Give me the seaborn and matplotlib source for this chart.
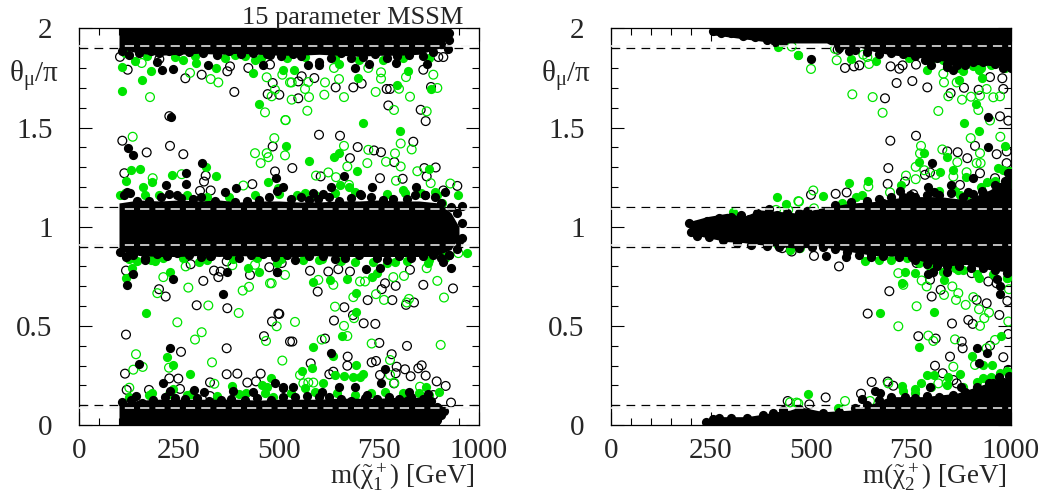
import numpy as np
import matplotlib
matplotlib.use("Agg")
import matplotlib.pyplot as plt
import seaborn as sns

# values, as (m [GeV], theta_mu/pi)
left_open_black = [
    (102.5,1.857),(121.7,1.792),(200.8,1.846),(265.8,1.749),(306.7,1.767),(377.5,1.809),(370.8,1.784),(423.3,1.801),
    (388.3,1.680),(471.7,1.669),(500.8,1.666),(484.2,1.725),(477.5,1.818),(225.8,1.558),(108.3,1.434),(227.5,1.408),
    (169.2,1.375),(260.8,1.366),(484.2,1.405),(113.3,1.270),(316.7,1.258),(312.5,1.228),(433.3,1.215),(490,1.279),
    (329.2,1.183),(302.5,1.181),(556.7,1.759),(548.3,1.733),(588.3,1.750),(548.3,1.648),(641.7,1.703),(685.8,1.703),
    (706.7,1.722),(769.2,1.695),(777.5,1.695),(880,1.705),(773.3,1.612),(854.2,1.590),(866.7,1.533),(600,1.464),
    (652.5,1.459),(696.7,1.402),(737.5,1.385),(755,1.376),(835.8,1.429),(677.5,1.346),(788.3,1.326),(533.3,1.296),
    (891.7,1.299),(863.3,1.296),(869.2,1.254),(604.2,1.254),(752.5,1.245),(809.2,1.242),(910.8,1.856),(898.3,1.856),
    (860.8,1.792),(945.8,1.206),(910.8,1.183),
    (117.5,0.779),(200,0.685),(216.7,0.648),(279.2,0.811),(310.8,0.727),(337.5,0.779),(348.3,0.746),(354.2,0.774),
    (294.2,0.604),(370.8,0.589),(117.5,0.456),(255,0.369),(369.2,0.387),(115,0.259),(369.2,0.256),(395.8,0.259),
    (454.2,0.259),(498.3,0.562),(482.5,0.522),(462.5,0.448),(427.5,0.757),(475.8,0.796),(225.8,0.235),(248.3,0.234),
    (327.5,0.215),(420.8,0.214),(442.5,0.220),(119.2,0.177),(175,0.177),(252.5,0.182),(327.5,0.146),(506.7,0.817),
    (527.5,0.421),(369.2,0.825),(500.8,0.560),(533.3,0.421),(596.7,0.673),(579.2,0.311),(615,0.436),(637.5,0.527),
    (663.3,0.594),(685,0.554),(711.7,0.513),(740.8,0.510),(721.7,0.630),(783.3,0.630),(756.7,0.685),(791.7,0.702),
    (860.8,0.707),(935,0.689),(837.5,0.618),(817.5,0.606),(750.8,0.414),(820,0.399),(781.7,0.357),(671.7,0.345),
    (670.8,0.299),(731.7,0.316),(742.5,0.323),(794.2,0.294),(815,0.281),(856.7,0.301),(848.3,0.286),(829.2,0.246),
    (866.7,0.249),(752.5,0.252),(791.7,0.261),(894.2,0.220),(916.7,0.197),(635.8,0.269),(625.8,0.256),(577.5,0.778),
    (623.3,0.774),(648.3,0.786),(765,0.715),(827.5,0.783),(930,0.113),(787.5,0.210),(885.8,0.151),(527.5,0.126),
    (677.5,0.774),
]
left_open_green = [
    (156.7,1.826),(277.5,1.776),(329.2,1.745),(348.3,1.728),(177.5,1.654),(469.2,1.754),(465,1.577),(516.7,1.538),
    (134.2,1.454),(488.3,1.447),(440,1.371),(469.2,1.371),(473.3,1.351),(454.2,1.321),(515,1.360),(184.2,1.245),
    (256.7,1.265),(410.8,1.208),(508.3,1.767),(490,1.691),(481.7,1.658),(527.5,1.728),(531.7,1.728),(573.3,1.730),
    (565,1.695),(575,1.654),(531.7,1.641),(613.3,1.666),(615,1.728),(650,1.745),(662.5,1.654),(637.5,1.801),
    (723.3,1.801),(755,1.779),(755,1.747),(741.7,1.680),(800,1.696),(827.5,1.656),(787.5,1.589),(817.5,1.755),
    (885.8,1.767),(895.8,1.700),(869.2,1.582),(570.8,1.585),(515.8,1.538),(662.5,1.408),(723.3,1.388),(804.2,1.420),
    (831.7,1.390),(790,1.370),(767.5,1.328),(720.8,1.321),(670.8,1.304),(804.2,1.304),(845.8,1.280),(623.3,1.274),
    (592.5,1.258),(642.5,1.250),(792.5,1.232),(879.2,1.220),(928.3,1.218),(675,1.211),
    (266.7,0.800),(210.8,0.746),(195.8,0.665),(273.3,0.693),(323.3,0.603),(399.2,0.565),(409.2,0.678),(425,0.697),
    (477.5,0.715),(245.8,0.518),(306.7,0.468),(290,0.431),(467.5,0.424),(494.2,0.498),(142.5,0.357),(135.8,0.279),
    (159.2,0.293),(225,0.289),(332.5,0.316),(508.3,0.325),(338.3,0.208),(125.8,0.188),(440,0.808),(383.3,0.806),
    (515,0.757),(540,0.520),(640,0.597),(685.8,0.645),(687.5,0.539),(662.5,0.500),(670.8,0.449),(606.7,0.431),
    (731.7,0.411),(742.5,0.660),(762.5,0.631),(702.5,0.724),(715,0.724),(812.5,0.752),(785.8,0.746),(819.2,0.618),
    (825,0.636),(912.5,0.643),(895.8,0.727),(904.2,0.404),(552.5,0.252),(560.8,0.210),(573.3,0.214),(585.8,0.214),
    (777.5,0.328),(777.5,0.252),(788.3,0.212),(852.5,0.193),(481.7,0.715),(598.3,0.732),(635.8,0.707),(869.2,0.791),
    (948.3,0.867),
]
left_filled_green = [
    (108.3,1.804),(106.7,1.683),(158.3,1.740),(180,1.784),(140,1.834),(260.8,1.843),(291.7,1.826),(342.5,1.801),
    (434.2,1.776),(449.2,1.621),(509.2,1.789),(517.5,1.408),(129.2,1.287),(152.5,1.292),(116.7,1.233),(316.7,1.299),
    (342.5,1.257),(233.3,1.259),(183.3,1.225),(160.8,1.200),(102.5,1.161),(471.7,1.228),(390,1.868),(440,1.843),
    (537.5,1.789),(696.7,1.749),(650,1.821),(823.3,1.786),(795.8,1.715),(880,1.695),(710,1.521),(803.3,1.484),
    (637.5,1.351),(650,1.370),(575.8,1.331),(694.2,1.279),(875.8,1.291),(948.3,1.161),(890,1.173),(810.8,1.186),
    (652.5,1.211),(675,1.200),(498.3,1.195),(906.7,1.122),(565,1.169),
    (117.5,0.744),(131.7,0.791),(227.5,0.774),(167.5,0.565),(219.2,0.343),(234.2,0.303),(277.5,0.259),(423.3,0.791),
    (450.8,0.773),(300.8,0.821),(495.8,0.816),(190,0.825),(145.8,0.825),(381.7,0.197),(458.3,0.200),(479.2,0.235),
    (270.8,0.153),(348.3,0.126),(181.7,0.160),(417.5,0.160),(469.2,0.193),(485.8,0.143),(235.8,0.180),(969.2,0.867),
    (906.6,0.870),(670.8,0.736),(627.5,0.729),(585.8,0.719),(691.7,0.665),(692.5,0.572),(658.3,0.451),(585.8,0.395),
    (634.2,0.350),(691.7,0.301),(581.7,0.289),(556.7,0.273),(640,0.252),(662.5,0.249),(685.8,0.244),(709.2,0.256),
    (610.8,0.214),(565,0.185),(867.5,0.192),(900,0.168),(731.7,0.749),(769.2,0.817),(873.3,0.817),(702.5,0.240),
    (606.7,0.837),(744,0.766),
    # green showing between the merged black points
    (115,1.875),(170,1.86),(240,1.855),(290,1.86),(365,1.85),(415,1.86),(455,1.85),(520,1.85),(565,1.855),(640,1.85),
    (700,1.84),(760,1.84),(810,1.85),(875,1.85),
    (115,1.17),(165,1.16),(200,1.16),(270,1.16),(320,1.15),(375,1.15),(440,1.16),(500,1.165),(545,1.16),(590,1.16),
    (640,1.17),(690,1.175),(770,1.165),(815,1.17),(855,1.17),(895,1.16),
    (125,0.835),(180,0.83),(210,0.84),(260,0.84),(320,0.83),(385,0.835),(445,0.84),(505,0.835),(560,0.83),(600,0.83),
    (655,0.825),(690,0.82),(735,0.82),(790,0.82),(820,0.825),(875,0.83),(915,0.84),
    (125,0.14),(175,0.15),(225,0.155),(280,0.155),(345,0.145),(400,0.155),(465,0.16),(530,0.16),(590,0.165),(645,0.16),
    (690,0.15),(730,0.16),(765,0.165),(810,0.16),(850,0.16),(875,0.15),
]
left_filled_black = [
    (229.2,1.553),(121.7,1.397),(135.8,1.363),(306.7,1.324),(266.7,1.269),(266.7,1.216),(208.3,1.789),(234.2,1.796),
    (194.2,1.829),(321.7,1.818),(460.8,1.818),(477.5,1.868),(216.7,1.211),(491.7,1.247),(510.8,1.200),(391.7,1.195),
    (365,1.173),(119.2,1.173),(662.5,1.258),(629.2,1.201),(731.7,1.198),(841.7,1.201),(915,1.173),(585.8,1.169),
    (610.8,1.164),(702.5,1.166),(865,1.161),(690,1.801),(725.8,1.821),(600.8,1.818),(571.7,1.818),(869.2,1.821),
    (792.5,1.826),(923.3,1.897),(919,1.978),(907,1.964),(956.7,1.105),(956.7,1.021),(956.7,0.942),
    (119.2,0.704),(135.8,0.761),(234.2,0.737),(359.2,0.660),(227.5,0.390),(150,0.308),(369.2,0.771),(495.8,0.774),
    (141.7,0.148),(287.5,0.178),(312.5,0.168),(385.8,0.173),(435.8,0.165),(490,0.214),(510.8,0.190),(210.8,0.210),
    (227.5,0.173),(119.2,0.850),(165,0.833),(327.5,0.850),(369,0.859),(629.2,0.365),(754.2,0.214),(765,0.281),
    (930,0.791),(910.8,0.820),(925.8,0.855),(717.5,0.786),(752.5,0.791),(494.2,0.774),(534.2,0.193),(650.8,0.190),
    (690,0.190),(719.2,0.151),(825,0.168),(823.3,0.126),(873.3,0.156),(606.7,0.168),(510.8,0.185),(902.5,0.075),
    (894.2,0.025),
    # scalloped rims of the merged regions
    (108,1.885),(125,1.865),(150,1.875),(180,1.885),(200,1.875),(225,1.885),(250,1.885),(275,1.88),(310,1.875),(345,1.865),
    (375,1.885),(405,1.87),(435,1.875),(470,1.87),(505,1.86),(535,1.87),(555,1.86),(600,1.83),(630,1.85),(655,1.875),
    (680,1.85),(710,1.855),(740,1.87),(770,1.85),(795,1.86),(825,1.865),(860,1.86),(885,1.88),(905,1.92),(925,1.94),(925,1.975),
    (112,1.16),(128,1.17),(145,1.13),(175,1.13),(205,1.15),(225,1.165),(245,1.16),(255,1.145),(285,1.14),(305,1.15),
    (340,1.13),(390,1.125),(420,1.13),(450,1.135),(475,1.15),(495,1.18),(530,1.14),(555,1.15),(575,1.135),(598,1.14),
    (625,1.15),(650,1.13),(680,1.145),(705,1.16),(730,1.15),(760,1.135),(785,1.14),(820,1.14),(840,1.16),(865,1.16),
    (890,1.15),(905,1.12),(930,1.10),(945,1.07),
    (102,0.875),(118,0.845),(135,0.86),(165,0.84),(195,0.865),(220,0.85),(245,0.87),(275,0.86),(305,0.845),(330,0.85),
    (370,0.855),(400,0.84),(430,0.855),(460,0.865),(490,0.845),(520,0.86),(540,0.83),(575,0.85),(610,0.85),(640,0.835),
    (665,0.84),(700,0.86),(745,0.84),(770,0.83),(800,0.85),(830,0.84),(860,0.85),(885,0.86),(905,0.84),(925,0.86),(945,0.89),(950,0.93),
    (108,0.115),(130,0.125),(158,0.11),(185,0.125),(215,0.14),(240,0.135),(265,0.13),(295,0.135),(325,0.12),(355,0.125),
    (380,0.13),(415,0.125),(445,0.135),(480,0.125),(510,0.14),(540,0.14),(570,0.145),(600,0.14),(625,0.14),(655,0.13),
    (680,0.12),(715,0.135),(745,0.13),(775,0.14),(800,0.13),(830,0.14),(860,0.13),(880,0.12),(895,0.09),(905,0.05),(912,0.07),
]

right_open_black = [
    (585,1.801),(607.5,1.809),(620.8,1.814),(699,1.809),(720.8,1.797),(729,1.814),(762.5,1.818),(714,1.725),
    (753.3,1.735),(790.8,1.703),(685,1.648),(849,1.674),(882.5,1.701),(919,1.691),(980.8,1.695),(947.5,1.755),
    (978.3,1.749),(972.5,1.557),(993.3,1.535),(762.5,1.459),(698.3,1.434),(910,1.408),(840.8,1.380),(866.7,1.376),
    (890.8,1.346),(964.2,1.366),(989.2,1.380),(693.3,1.296),(691.7,1.216),(735,1.228),(785,1.262),(797.5,1.274),
    (561.7,1.166),(589.2,1.173),(500,1.161),(922.5,1.270),(960,1.245),(989,1.321),(872.5,1.211),(755.8,1.164),
    (566.7,1.893),(441.7,0.121),(428.3,0.892),(451.7,0.875),
    (507.5,0.853),(570,0.800),(641.7,0.562),(695.8,0.675),(801.7,0.648),(824.2,0.682),(852.5,0.512),(768.3,0.448),
    (811.7,0.436),(893.3,0.530),(904.2,0.510),(876.7,0.421),(879.2,0.387),(847.5,0.345),(810,0.299),(947.5,0.400),
    (980.8,0.342),(970.8,0.555),(914.2,0.631),(939.2,0.614),(990.8,0.626),(993.3,0.459),(651.7,0.217),(691.7,0.219),
    (705.8,0.198),(625,0.158),(536.7,0.139),(495.8,0.104),(829.2,0.261),(855.8,0.227),(901.7,0.766),(943.3,0.724),
    (964,0.715),(764,0.817),(797.5,0.732),(864.2,0.210),(947.5,0.227),(993.3,0.278),
]
right_open_green = [
    (500,1.796),(564.2,1.840),(560,1.897),(630.8,1.868),(645,1.821),(640.8,1.856),(603.3,1.668),(654.2,1.654),
    (679,1.575),(818.3,1.584),(830.8,1.772),(832.5,1.728),(864.2,1.728),(843.3,1.658),(877.5,1.641),(900,1.656),
    (922.5,1.661),(939,1.695),(955.8,1.653),(972.5,1.658),(918.3,1.589),(947.5,1.536),(899.2,1.447),(973.3,1.454),
    (775,1.408),(772.5,1.370),(828.3,1.390),(922.5,1.371),(914.2,1.321),(924,1.321),(865.8,1.326),(761.7,1.302),
    (783.3,1.285),(811.7,1.262),(855.8,1.253),(737.5,1.258),(761.7,1.240),(643.3,1.203),(697.5,1.173),(505.8,1.183),
    (470,1.127),(507.5,1.093),(889,1.275),(451.7,1.909),(468.3,1.129),(412.5,1.085),(443,1.085),(447.5,0.114),
    (464,0.113),(418.3,0.909),(468,0.900),
    (472.5,0.892),(585,0.121),(647.5,0.121),(468.3,0.109),(718.3,0.766),(730.8,0.707),(776.7,0.729),(764,0.599),
    (718.3,0.498),(793.3,0.451),(805.8,0.424),(860,0.432),(853.3,0.699),(868.3,0.665),(862.5,0.631),(886.7,0.606),
    (832.5,0.656),(789.2,0.699),(905.8,0.645),(920,0.584),(945,0.567),(933.3,0.539),(922.5,0.500),(993.3,0.522),
    (995,0.685),(960,0.429),(939,0.387),(910,0.303),(855.8,0.294),(693.3,0.210),(839,0.210),(818.3,0.210),
]
right_filled_green = [
    (468.3,1.868),(600,1.846),(662.5,1.838),(745.8,1.851),(789,1.789),(870.8,1.742),(880.8,1.784),(926.7,1.750),
    (920,1.792),(911.7,1.621),(883.3,1.521),(920.8,1.484),(985,1.405),(783.3,1.370),(770,1.328),(840.8,1.351),
    (822.5,1.277),(855.8,1.287),(968.3,1.296),(980.8,1.287),(595,1.223),(641.7,1.232),(530.8,1.157),(611.7,1.152),
    (626.7,1.161),(576.7,1.119),(725,1.211),(887.5,1.253),(939,1.228),(997.5,1.216),(872.5,1.161),(416.7,1.905),
    (466.7,1.868),(414.2,1.149),(436.7,1.114),(304.2,1.073),(447.5,0.884),
    (491.7,0.156),(672.5,0.566),(807.5,0.572),(770,0.395),(975,0.451),(728.3,0.715),(735,0.774),(760,0.769),
    (635,0.825),(670.8,0.833),(832.5,0.732),(920,0.741),(989,0.741),(903.3,0.350),(930.8,0.235),(951.7,0.303),
    (972.5,0.261),(789.2,0.252),(807.5,0.252),(774,0.214),(760,0.182),(728.3,0.197),(843.3,0.244),(872.5,0.257),
    (568.3,0.087),(930.8,0.303),(855.8,0.808),(868.3,0.783),(793.3,0.808),
    # green showing between the merged black points
    (800,1.84),(830,1.84),(870,1.80),(905,1.81),(925,1.80),(950,1.815),(985,1.80),
    (820,1.18),(860,1.18),(890,1.16),(925,1.20),(960,1.23),(995,1.28),
    (700,0.83),(740,0.84),(770,0.815),(800,0.79),(830,0.77),(860,0.79),(880,0.78),(915,0.76),(955,0.76),(990,0.74),
    (730,0.17),(760,0.16),(800,0.19),(840,0.20),(880,0.19),(915,0.215),(950,0.24),(990,0.27),
]
right_filled_black = [
    (499,1.848),(943.3,1.553),(941.7,1.402),(803.3,1.324),(905.8,1.245),(850,1.211),(793.3,1.203),(807.5,1.173),
    (722.5,1.178),(747.5,1.161),(670.8,1.139),(840.8,1.804),(855.8,1.789),(864.2,1.818),(885,1.814),(800,1.814),
    (980.8,1.801),(993,1.270),(893.3,1.173),(926.7,1.178),(972.5,1.203),
    (537.5,0.850),(587.5,0.847),(650,0.847),(751.7,0.847),(776.7,0.859),(501.7,0.897),(791.7,0.761),(804,0.774),
    (839,0.774),(964.2,0.736),(972.5,0.702),(972.5,0.661),(914.2,0.389),(939.2,0.365),(920.8,0.311),(874.2,0.190),
    (797.5,0.190),(626.7,0.131),(660,0.173),(672.5,0.160),(955.8,0.210),(980.8,0.218),
    # scalloped rims of the merged regions
    (255,1.985),(275,1.975),(300,1.975),(330,1.96),(360,1.955),(390,1.94),(410,1.93),(430,1.93),(570,1.90),(595,1.885),
    (610,1.89),(640,1.88),(670,1.87),(700,1.875),(730,1.87),(760,1.86),(785,1.84),(800,1.85),(815,1.85),(840,1.82),
    (860,1.83),(880,1.83),(905,1.83),(930,1.83),(960,1.82),(985,1.82),(1000,1.80),
    (195,1.02),(210,1.01),(240,1.03),(270,1.045),(300,1.05),(325,1.06),(345,1.04),(365,1.07),(395,1.09),(415,1.06),
    (440,1.07),(470,1.07),(490,1.08),(560,1.11),(600,1.125),(640,1.13),(680,1.12),(700,1.15),(730,1.15),(760,1.15),
    (790,1.16),(820,1.16),(850,1.17),(880,1.15),(905,1.165),(930,1.17),(960,1.21),(985,1.23),(1000,1.27),
    (200,0.975),(215,0.955),(245,0.95),(280,0.935),(315,0.92),(350,0.91),(390,0.905),(420,0.90),(470,0.895),(530,0.90),
    (560,0.89),(590,0.875),(620,0.855),(650,0.86),(680,0.85),(720,0.845),(760,0.83),(790,0.81),(815,0.80),(840,0.80),
    (870,0.80),(900,0.79),(930,0.79),(960,0.78),(990,0.765),
    (238,0.015),(255,0.03),(270,0.035),(300,0.035),(340,0.035),(380,0.05),(405,0.06),(430,0.075),(470,0.08),(490,0.06),
    (530,0.06),(570,0.065),(610,0.085),(640,0.10),(670,0.125),(700,0.14),(735,0.14),(760,0.135),(790,0.145),(820,0.14),
    (855,0.15),(885,0.165),(915,0.19),(945,0.21),(970,0.24),(995,0.245),
]

# saturated regions where the points merge: edges
left_top_m = [100,150,200,250,300,350,400,450,500,550,600,650,700,750,800,850,900,930]
left_top_low = [1.90,1.875,1.865,1.87,1.875,1.87,1.875,1.87,1.865,1.865,1.87,1.865,1.86,1.865,1.865,1.87,1.90,1.975]
left_top_up = [2.0]*18
left_mid_m = [100,150,200,250,300,350,400,450,500,550,600,650,700,750,800,850,900,930,950]
left_mid_low = [0.88,0.855,0.85,0.85,0.855,0.85,0.855,0.85,0.85,0.85,0.855,0.85,0.85,0.85,0.85,0.85,0.86,0.885,0.95]
left_mid_up = [1.12,1.135,1.13,1.135,1.13,1.135,1.125,1.13,1.13,1.125,1.125,1.13,1.13,1.135,1.13,1.13,1.12,1.07,1.00]
left_bot_m = [100,150,200,250,300,350,400,450,500,550,600,650,700,750,800,850,900]
left_bot_low = [0.0]*17
left_bot_up = [0.11,0.125,0.13,0.13,0.13,0.13,0.13,0.125,0.13,0.13,0.13,0.135,0.135,0.135,0.14,0.14,0.09]

right_top_m = [247,297,347,381,414,447,497,539,572,614,656,697,781,864,914,981,1001]
right_top_low = [1.97,1.957,1.944,1.935,1.927,1.927,1.927,1.927,1.893,1.91,1.885,1.868,1.851,1.826,1.818,1.809,1.793]
right_top_up = [2.0]*17
right_mid_m = [195,240,290,331,372,422,472,514,597,656,739,822,889,947,981,1001]
right_mid_low = [0.965,0.945,0.925,0.92,0.91,0.90,0.89,0.905,0.875,0.855,0.85,0.80,0.81,0.783,0.775,0.766]
right_mid_up = [1.026,1.051,1.068,1.051,1.085,1.077,1.068,1.09,1.119,1.127,1.152,1.152,1.136,1.186,1.228,1.27]
right_bot_m = [231,260,297,339,381,414,447,472,531,597,656,697,781,864,914,964,1001]
right_bot_low = [0.0]*17
right_bot_up = [0.016,0.042,0.042,0.042,0.055,0.067,0.075,0.092,0.067,0.075,0.109,0.143,0.143,0.16,0.193,0.227,0.244]

x_tick_labels = ["0", "250", "500", "750", "1000"]
y_tick_labels = ["0", "0.5", "1", "1.5", "2"]
bound_lines = [0.1, 0.9, 1.1, 1.9]
bound_overlay = [0.088, 0.909, 1.091, 1.91]

GREEN = "#00e400"

sns.set_theme(style="ticks")
plt.rcParams["font.family"] = ["Liberation Serif", "DejaVu Sans"]
plt.rcParams["mathtext.fontset"] = "custom"
plt.rcParams["mathtext.rm"] = "Liberation Serif"
plt.rcParams["mathtext.it"] = "Liberation Serif"
plt.rcParams["mathtext.bf"] = "Liberation Serif"


def draw_points(ax, points, color, filled):
    pts = np.array(points)
    if filled:
        sns.scatterplot(x=pts[:, 0], y=pts[:, 1], ax=ax, color=color, edgecolor=color, s=44, linewidth=0, zorder=4)
    else:
        sns.scatterplot(x=pts[:, 0], y=pts[:, 1], ax=ax, facecolor="none", edgecolor=color, s=40, linewidth=0.9, zorder=3)


def draw_panel(ax, open_black, open_green, filled_green, filled_black, bands, label):
    for value in bound_lines:
        ax.axhline(value, color="black", lw=0.9, dashes=(7, 5), zorder=1)
    draw_points(ax, open_black, "black", False)
    draw_points(ax, open_green, GREEN, False)
    draw_points(ax, filled_green, GREEN, True)
    for m, low, up in bands:
        ax.fill_between(m, low, up, color="black", lw=0, zorder=4)
    draw_points(ax, filled_black, "black", True)
    # the second set of dashes only shows where it crosses the black points
    for value in bound_overlay:
        ax.axhline(value, color="#f4f4f4", lw=1.1, dashes=(6, 4), zorder=6)

    ax.set_xlim(0, 1000)
    ax.set_ylim(0, 2)
    ax.set_xticks([0, 250, 500, 750, 1000], x_tick_labels)
    ax.set_yticks([0, 0.5, 1, 1.5, 2], y_tick_labels)
    ax.set_xticks(np.arange(0, 1001, 50), minor=True)
    ax.set_yticks(np.arange(0, 2.01, 0.1), minor=True)
    ax.tick_params(which="both", direction="in", top=True, right=True, width=0.8, color="black")
    ax.tick_params(which="major", length=9.4)
    ax.tick_params(which="minor", length=4.7)
    ax.tick_params(axis="x", which="major", labelsize=21, pad=9)
    ax.tick_params(axis="y", which="major", labelsize=21, pad=19)
    for spine in ax.spines.values():
        spine.set_visible(True)
        spine.set_linewidth(0.9)
        spine.set_color("black")
    ax.text(-0.175, 0.88, r"$\mathrm{\theta_{\mu}/\pi}$", transform=ax.transAxes, fontsize=21, ha="left", va="center")
    ax.text(0.99, -0.15, label, transform=ax.transAxes, fontsize=19.5, ha="right", va="baseline")


W, H = 1042, 494
fig = plt.figure(figsize=(W / 100, H / 100), dpi=100)
ax_left = fig.add_axes([79 / W, (H - 425) / H, 400 / W, 396.5 / H])
ax_right = fig.add_axes([611 / W, (H - 425) / H, 400 / W, 396.5 / H])

draw_panel(ax_left, left_open_black, left_open_green, left_filled_green, left_filled_black,
           [(left_top_m, left_top_low, left_top_up), (left_mid_m, left_mid_low, left_mid_up),
            (left_bot_m, left_bot_low, left_bot_up)], r"m($\tilde{\chi}_1^+$) [GeV]")
draw_panel(ax_right, right_open_black, right_open_green, right_filled_green, right_filled_black,
           [(right_top_m, right_top_low, right_top_up), (right_mid_m, right_mid_low, right_mid_up),
            (right_bot_m, right_bot_low, right_bot_up)], r"m($\tilde{\chi}_2^+$) [GeV]")
ax_left.text(960, 2.025, "15 parameter MSSM", fontsize=19, ha="right", va="baseline")

fig.savefig("out.png", dpi=100)
